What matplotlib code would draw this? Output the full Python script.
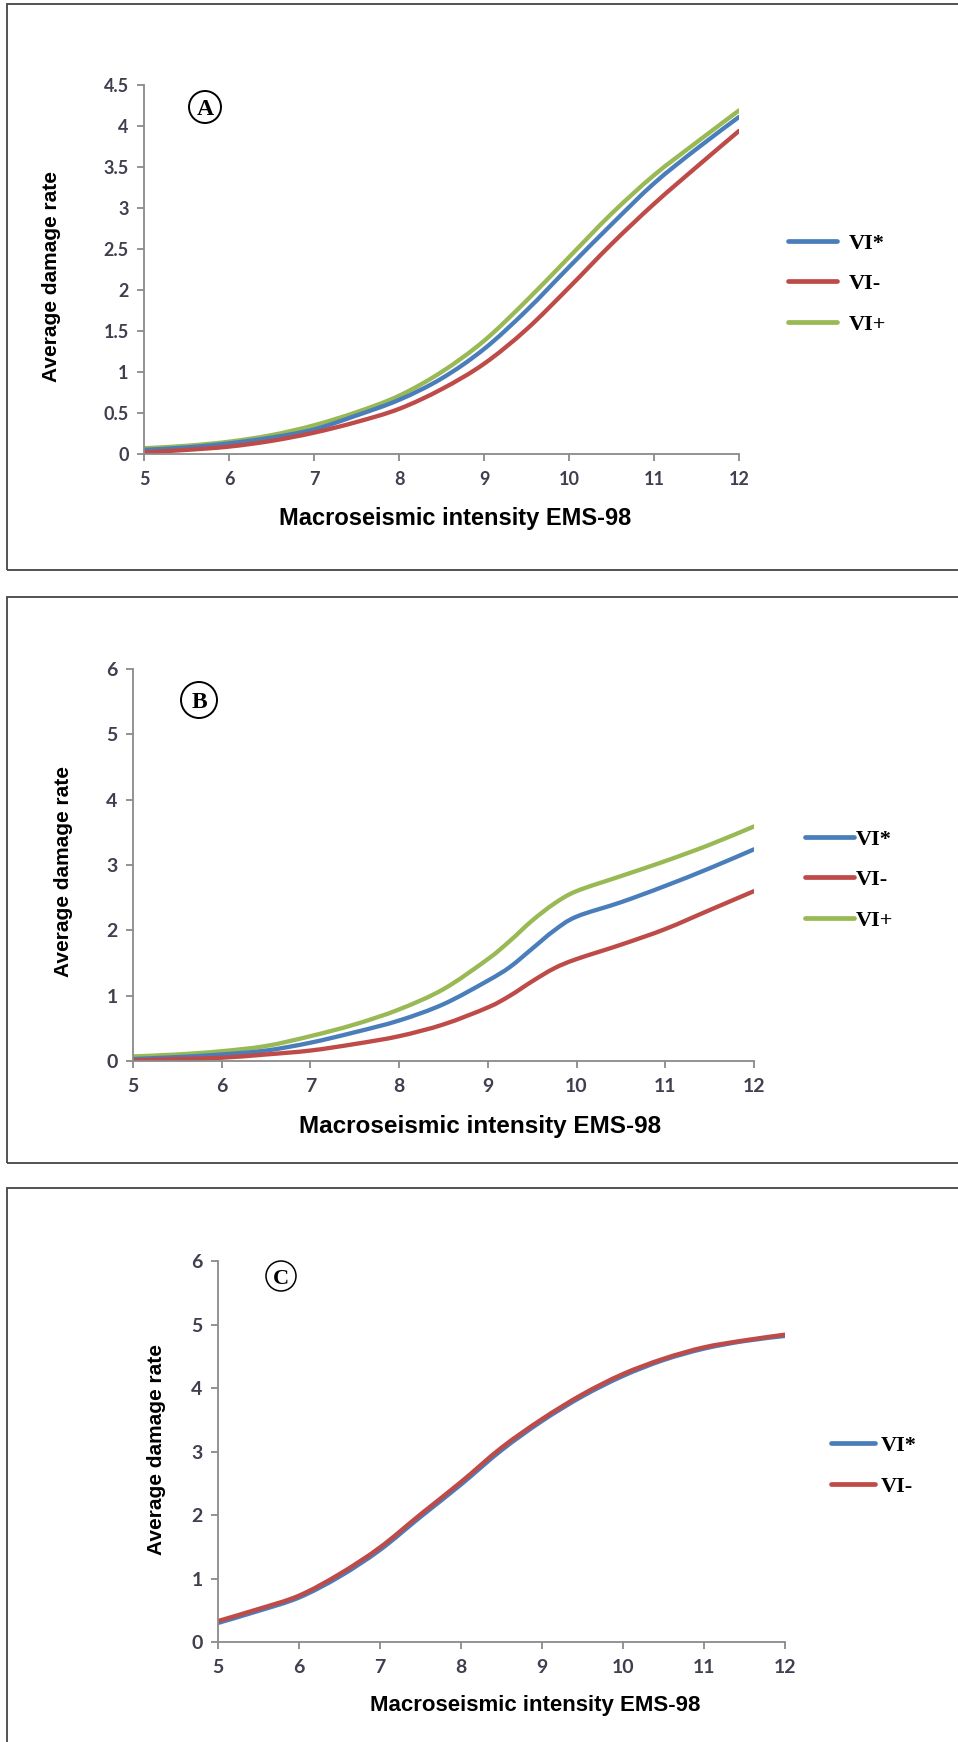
import matplotlib
matplotlib.use("Agg")
import matplotlib.pyplot as plt
from matplotlib.patches import Ellipse, Rectangle, PathPatch
from matplotlib.path import Path
from matplotlib.lines import Line2D

W, H = 958, 1742

# values (x at half-intensity steps)
x_half = [5, 5.5, 6, 6.5, 7, 7.5, 8, 8.5, 9, 9.5, 10, 10.5, 11, 11.5, 12]

a_star = [0.05, 0.08, 0.13, 0.20, 0.30, 0.47, 0.66, 0.92, 1.28, 1.75, 2.28, 2.80, 3.30, 3.72, 4.11]
a_minus = [0.02, 0.05, 0.09, 0.16, 0.26, 0.39, 0.55, 0.79, 1.10, 1.52, 2.03, 2.56, 3.05, 3.50, 3.94]
a_plus = [0.07, 0.10, 0.15, 0.23, 0.35, 0.51, 0.71, 1.00, 1.38, 1.87, 2.40, 2.93, 3.40, 3.80, 4.19]

x_b = [5, 5.5, 6, 6.5, 7, 7.5, 8, 8.5, 9, 9.25, 9.5, 9.75, 10, 10.5, 11, 11.5, 12]
b_star = [0.03, 0.06, 0.10, 0.16, 0.28, 0.44, 0.62, 0.87, 1.23, 1.44, 1.72, 2.00, 2.21, 2.43, 2.68, 2.95, 3.24]
b_minus = [0.01, 0.03, 0.05, 0.10, 0.16, 0.26, 0.38, 0.56, 0.82, 1.00, 1.22, 1.42, 1.56, 1.78, 2.02, 2.31, 2.60]
b_plus = [0.07, 0.10, 0.15, 0.23, 0.38, 0.56, 0.79, 1.10, 1.56, 1.84, 2.15, 2.41, 2.60, 2.83, 3.06, 3.31, 3.59]

c_star = [0.30, 0.49, 0.70, 1.03, 1.45, 1.97, 2.48, 3.02, 3.48, 3.87, 4.19, 4.44, 4.62, 4.74, 4.82]
c_minus = [0.33, 0.52, 0.73, 1.07, 1.49, 2.01, 2.52, 3.06, 3.51, 3.90, 4.22, 4.46, 4.64, 4.75, 4.84]

blue = "#4a7ebb"
red = "#be4b48"
green = "#98b954"
tick_col = "#3f3f4f"
spine_col = "#8a8a8a"

plt.rcParams["font.family"] = ["Lato", "DejaVu Sans"]

fig = plt.figure(figsize=(W / 100, H / 100), dpi=100)


def fx(px):
    return px / W


def fy(py):
    return 1 - py / H


def smooth_line(ax, xs, ys, color):
    # Excel-style smoothed line: cubic bezier segments through the points
    verts = [(xs[0], ys[0])]
    codes = [Path.MOVETO]
    n = len(xs)
    for i in range(n - 1):
        x0, y0 = xs[max(i - 1, 0)], ys[max(i - 1, 0)]
        x1, y1 = xs[i], ys[i]
        x2, y2 = xs[i + 1], ys[i + 1]
        x3, y3 = xs[min(i + 2, n - 1)], ys[min(i + 2, n - 1)]
        verts += [(x1 + (x2 - x0) / 6, y1 + (y2 - y0) / 6),
                  (x2 - (x3 - x1) / 6, y2 - (y3 - y1) / 6),
                  (x2, y2)]
        codes += [Path.CURVE4] * 3
    ax.add_patch(PathPatch(Path(verts, codes), fill=False, ec=color, lw=3.1,
                           capstyle="round", joinstyle="round"))


def make_axes(x0, x1, ytop, ybot, ymax, ystep, tsize):
    ax = fig.add_axes([fx(x0), fy(ybot), fx(x1 - x0), (ybot - ytop) / H])
    ax.set_xlim(5, 12)
    ax.set_ylim(0, ymax)
    ax.set_xticks(range(5, 13))
    ticks = [round(i * ystep, 2) for i in range(int(round(ymax / ystep)) + 1)]
    ax.set_yticks(ticks)
    ax.set_yticklabels([f"{t:g}" for t in ticks])
    for s in ["top", "right"]:
        ax.spines[s].set_visible(False)
    for s in ["left", "bottom"]:
        ax.spines[s].set_color(spine_col)
        ax.spines[s].set_linewidth(1.3)
    ax.tick_params(axis="both", colors=spine_col, length=5, width=1.3,
                   labelsize=tsize, labelcolor=tick_col)
    ax.tick_params(axis="y", pad=6)
    ax.tick_params(axis="x", pad=7)
    for lab in ax.get_xticklabels() + ax.get_yticklabels():
        lab.set_fontweight("bold")
    ax.patch.set_alpha(0)
    return ax


def circle_letter(cx, cy, d, letter, lw=1.4, fs=17):
    fig.add_artist(Ellipse((fx(cx), fy(cy)), d / W, d / H, transform=fig.transFigure,
                           fc="white", ec="black", lw=lw))
    fig.text(fx(cx), fy(cy), letter, ha="center", va="center_baseline",
             fontsize=fs, fontweight="bold", family="Liberation Serif")


def labels(xc, yc, xlab_x, xlab_y, fs_x=17, fs_y=15):
    fig.text(fx(xlab_x), fy(xlab_y), "Macroseismic intensity EMS-98", ha="center", va="center",
             fontsize=fs_x, fontweight="bold", family="Liberation Sans")
    fig.text(fx(xc), fy(yc), "Average damage rate", ha="center", va="center", rotation=90,
             fontsize=fs_y, fontweight="bold", family="Liberation Sans")


def legend(x0, ymid, names, colors, hlen, tpad):
    handles = [Line2D([], [], color=c, lw=3.4, solid_capstyle="round") for c in colors]
    fig.legend(handles, names, loc="center left", bbox_to_anchor=(fx(x0), fy(ymid)),
               frameon=False, borderpad=0, borderaxespad=0, handlelength=hlen,
               handletextpad=tpad, labelspacing=0.9,
               prop={"family": "Liberation Serif", "weight": "bold", "size": 16})


# panel frames
for top, bot in [(4, 570), (597, 1163), (1188, 1760)]:
    fig.add_artist(Rectangle((fx(7), fy(bot)), fx(1000), (bot - top) / H,
                             transform=fig.transFigure, fill=False, ec="#444444", lw=1.3))

# panel A
ax = make_axes(144, 739, 85, 454, 4.5, 0.5, 13)
smooth_line(ax, x_half, a_plus, green)
smooth_line(ax, x_half, a_star, blue)
smooth_line(ax, x_half, a_minus, red)
labels(52, 277, 455, 518, fs_x=17)
legend(788, 284, ["VI*", "VI-", "VI+"], [blue, red, green], 2.2, 0.55)
circle_letter(205, 107, 32, "A")

# panel B
ax = make_axes(133, 754, 669, 1061, 6, 1, 14)
smooth_line(ax, x_b, b_plus, green)
smooth_line(ax, x_b, b_star, blue)
smooth_line(ax, x_b, b_minus, red)
labels(64, 871, 480, 1126, fs_x=17.5)
legend(805, 880, ["VI*", "VI-", "VI+"], [blue, red, green], 2.2, 0.1)
circle_letter(199, 700, 36, "B")

# panel C
ax = make_axes(218, 785, 1261, 1642, 6, 1, 14)
smooth_line(ax, x_half, c_star, blue)
smooth_line(ax, x_half, c_minus, red)
labels(156, 1449, 535, 1705, fs_x=16)
legend(831, 1466, ["VI*", "VI-"], [blue, red], 2.0, 0.25)
circle_letter(281, 1276, 30, "C", lw=1.1, fs=16)

fig.savefig("out.png", dpi=100)
